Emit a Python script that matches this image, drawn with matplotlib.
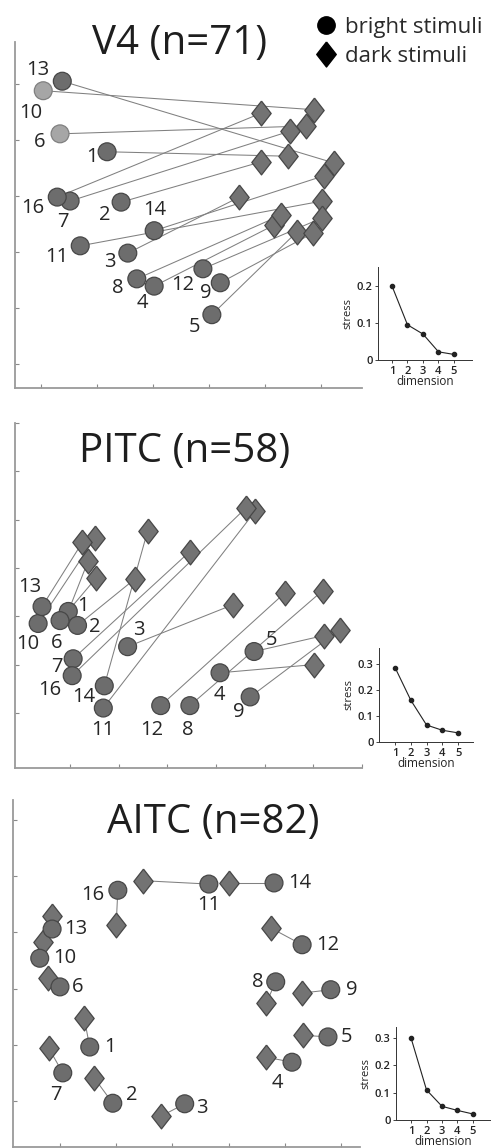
import matplotlib.pyplot as plt
from matplotlib.lines import Line2D

plt.rcParams['font.family'] = ['Open Sans', 'DejaVu Sans']

# stimulus numbers (15 is not in the set)
stimuli = [1, 2, 3, 4, 5, 6, 7, 8, 9, 10, 11, 12, 13, 14, 16]
dims = [1, 2, 3, 4, 5]

# V4 (n=71) - MDS coordinates, in stimulus order
v4_bright_x = [2.18, 2.43, 2.55, 3.02, 4.05, 1.34, 1.52, 2.71, 4.20, 1.04, 1.70, 3.89, 1.38, 3.02, 1.29]
v4_bright_y = [4.79, 3.89, 2.98, 2.39, 1.88, 5.11, 3.91, 2.52, 2.45, 5.88, 3.11, 2.70, 6.05, 3.38, 3.98]
v4_dark_x = [5.41, 4.93, 4.54, 5.16, 5.57, 5.73, 5.45, 5.29, 5.86, 5.88, 6.02, 6.02, 6.23, 6.05, 4.93]
v4_dark_y = [4.71, 4.61, 3.98, 3.48, 3.36, 5.25, 5.16, 3.66, 3.34, 5.54, 3.91, 3.61, 4.59, 4.36, 5.48]
v4_stress = [0.2, 0.095, 0.07, 0.022, 0.015]

# PITC (n=58)
pitc_bright_x = [0.96, 1.15, 2.18, 4.08, 4.78, 0.79, 1.06, 3.46, 4.70, 0.34, 1.68, 2.86, 0.42, 1.70, 1.04]
pitc_bright_y = [3.10, 2.81, 2.37, 1.83, 2.27, 2.91, 2.12, 1.15, 1.33, 2.85, 1.10, 1.15, 3.20, 1.56, 1.77]
pitc_dark_x = [1.37, 2.34, 4.35, 6.02, 6.21, 1.54, 3.46, 6.19, 6.54, 1.50, 4.80, 5.42, 1.25, 2.59, 4.62]
pitc_dark_y = [4.15, 3.78, 3.24, 2.00, 2.60, 3.80, 4.34, 3.53, 2.72, 4.61, 5.17, 3.49, 4.53, 4.76, 5.25]
pitc_stress = [0.285, 0.16, 0.065, 0.045, 0.035]

# AITC (n=82)
aitc_bright_x = [1.53, 1.94, 3.22, 5.13, 5.77, 1.00, 1.05, 4.84, 5.82, 0.64, 3.65, 5.31, 0.86, 4.81, 2.03]
aitc_bright_y = [1.96, 0.96, 0.95, 1.69, 2.14, 3.03, 1.50, 3.12, 2.98, 3.54, 4.86, 3.78, 4.06, 4.88, 4.75]
aitc_dark_x = [1.43, 1.61, 2.80, 4.67, 5.32, 0.79, 0.80, 4.67, 5.31, 0.70, 2.48, 4.75, 0.86, 4.01, 2.00]
aitc_dark_y = [2.48, 1.41, 0.73, 1.78, 2.17, 3.19, 1.94, 2.74, 2.92, 3.83, 4.92, 4.08, 4.29, 4.88, 4.13]
aitc_stress = [0.30, 0.11, 0.05, 0.035, 0.022]

# light grey circles in V4
v4_light = [6, 10]

# label placement (pixels right / down from the circle)
v4_lab = {13: (-24, -11), 10: (-13, 22), 6: (-20, 8), 1: (-15, 5), 16: (-25, 11), 7: (-7, 21),
          2: (-16, 13), 14: (1, -21), 11: (-23, 11), 3: (-18, 9), 8: (-19, 9), 4: (-12, 17),
          12: (-20, 16), 9: (-15, 10), 5: (-17, 12)}
pitc_lab = {13: (-12, -20), 1: (15, -5), 2: (17, 2), 10: (-10, 21), 6: (-3, 22), 3: (11, -17),
            7: (-16, 8), 16: (-22, 14), 14: (-21, 11), 11: (-1, 22), 12: (-9, 24), 8: (-2, 24),
            4: (-1, 22), 9: (-11, 15), 5: (17, -12)}
aitc_lab = {16: (-25, 5), 11: (0, 21), 14: (26, 0), 13: (24, 0), 10: (25, 0), 6: (18, 0),
            12: (26, 0), 8: (-18, 0), 9: (21, 0), 1: (20, 0), 5: (19, 0), 4: (-15, 21),
            7: (-7, 22), 2: (19, -8), 3: (17, 4)}

diamond = [(0, 1), (0.78, 0), (0, -1), (-0.78, 0), (0, 1)]
W, H = 496, 1148

fig = plt.figure(figsize=(W / 100, H / 100), dpi=100)


def px_axes(left, top, right, bottom):
    return fig.add_axes([left / W, 1 - bottom / H, (right - left) / W, (bottom - top) / H])


def mds_panel(ax, bx, by, dx, dy, labels, title, tpos, xlim, ylim, ticks, light=()):
    for i in range(len(stimuli)):
        ax.plot([bx[i], dx[i]], [by[i], dy[i]], color='#808080', lw=0.75, zorder=1)
    ax.scatter(dx, dy, marker=diamond, s=320, c='#737373', edgecolors='#474747',
               linewidths=0.9, zorder=2)
    cols = ['#a6a6a6' if s in light else '#6d6d6d' for s in stimuli]
    ecols = ['#808080' if s in light else '#474747' for s in stimuli]
    ax.scatter(bx, by, marker='o', s=165, c=cols, edgecolors=ecols, linewidths=0.9, zorder=3)
    for i, s in enumerate(stimuli):
        ox, oy = labels[s]
        ax.annotate(str(s), (bx[i], by[i]), xytext=(ox, -oy), textcoords='offset pixels',
                    ha='center', va='center', fontsize=14.5, color='#262626', zorder=4)
    ax.text(tpos[0], tpos[1], title, transform=ax.transAxes, ha='center', va='center',
            fontsize=29, color='#1e1e1e')
    ax.set_xlim(xlim)
    ax.set_ylim(ylim)
    ax.set_xticks(ticks[0])
    ax.set_yticks(ticks[1])
    ax.tick_params(direction='in', length=3, width=0.8, color='#8a8a8a',
                   labelbottom=False, labelleft=False)
    for side in ['top', 'right']:
        ax.spines[side].set_visible(False)
    for side in ['left', 'bottom']:
        ax.spines[side].set_color('#9a9a9a')
        ax.spines[side].set_linewidth(1.3)


def stress_inset(ax, stress, ylim, yt, ytl, xlim):
    ax.plot(dims, stress, color='#222222', lw=0.8, marker='o', ms=3, zorder=3)
    ax.set_xlim(xlim)
    ax.set_ylim(ylim)
    ax.set_xticks(dims)
    ax.set_yticks(yt)
    ax.set_yticklabels(ytl)
    ax.tick_params(labelsize=8, length=2, width=0.6, pad=2, colors='#222222')
    for lab in ax.get_xticklabels() + ax.get_yticklabels():
        lab.set_fontweight('semibold')
    ax.set_xlabel('dimension', fontsize=8.5, labelpad=-1, color='#222222')
    ax.set_ylabel('stress', fontsize=8, labelpad=2, color='#222222')
    ax.patch.set_alpha(0)
    for side in ['top', 'right']:
        ax.spines[side].set_visible(False)
    for side in ['left', 'bottom']:
        ax.spines[side].set_linewidth(0.7)
        ax.spines[side].set_color('#333333')


ax1 = px_axes(15, 42, 362, 388)
mds_panel(ax1, v4_bright_x, v4_bright_y, v4_dark_x, v4_dark_y, v4_lab, 'V4 (n=71)',
          (0.475, 0.995), (0.536, 6.73), (0.571, 6.75), ([1, 2, 3, 4, 5, 6], [1, 2, 3, 4, 5, 6]),
          light=v4_light)

ax2 = px_axes(15, 423, 362, 768)
mds_panel(ax2, pitc_bright_x, pitc_bright_y, pitc_dark_x, pitc_dark_y, pitc_lab, 'PITC (n=58)',
          (0.49, 0.916), (-0.136, 7.0), (-0.141, 7.0),
          ([1, 2, 3, 4, 5, 6, 7], [1, 2, 3, 4, 5, 6, 7]))

ax3 = px_axes(13, 800, 360, 1147)
mds_panel(ax3, aitc_bright_x, aitc_bright_y, aitc_dark_x, aitc_dark_y, aitc_lab, 'AITC (n=82)',
          (0.576, 0.934), (0.164, 6.34), (0.181, 6.356),
          ([1, 2, 3, 4, 5, 6], [1, 2, 3, 4, 5, 6]))

in1 = px_axes(378, 267, 472, 360)
stress_inset(in1, v4_stress, (0, 0.251), [0, 0.1, 0.2], ['0', '0.1', '0.2'], (0.1, 6.16))
in2 = px_axes(379, 648, 473, 742)
stress_inset(in2, pitc_stress, (0, 0.36), [0, 0.1, 0.2, 0.3], ['0', '0.1', '0.2', '0.3'], (-0.02, 5.95))
in3 = px_axes(396, 1027, 490, 1120)
stress_inset(in3, aitc_stress, (0, 0.34), [0, 0.1, 0.2, 0.3], ['0', '0.1', '0.2', '0.3'], (0.03, 6.1))

handles = [Line2D([], [], ls='none', marker='o', ms=12.5, color='black'),
           Line2D([], [], ls='none', marker=diamond, ms=18, color='black')]
fig.legend(handles, ['bright stimuli', 'dark stimuli'], loc='upper left',
           bbox_to_anchor=(315 / W, 1 - 17 / H), frameon=False,
           prop={'size': 16, 'weight': 'medium'},
           handlelength=1.0, handletextpad=0.35, borderpad=0, borderaxespad=0,
           labelspacing=0.35, labelcolor='#2a2a2a')

fig.savefig('out.png', dpi=100)
